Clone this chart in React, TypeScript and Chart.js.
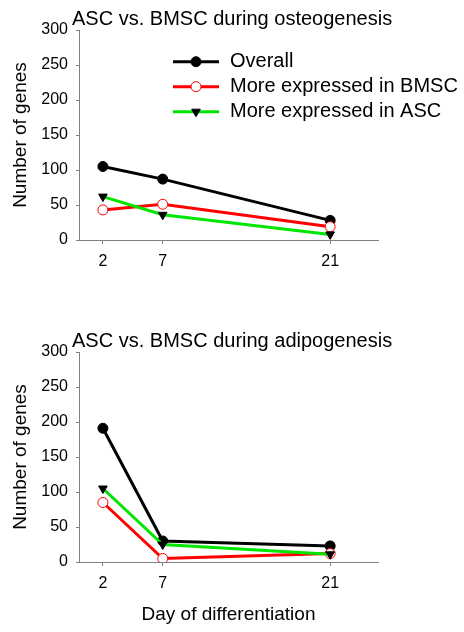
import React, { useEffect, useRef } from 'react';
import { Chart, registerables } from 'chart.js';

Chart.register(...registerables);

// ---- data ----
const days = [2, 7, 21];
const xTickValues = [2, 7, 21];
const xMin = 0;
const xMax = 25;
const yMin = 0;
const yMax = 300;
const yStep = 50;

const seriesLabels = ['Overall', 'More expressed in BMSC', 'More expressed in ASC'];

const osteoOverall = [105, 87, 28];
const osteoBMSC = [43, 51, 19];
const osteoASC = [62, 36, 8];

const adipoOverall = [191, 30, 23];
const adipoBMSC = [85, 5, 12];
const adipoASC = [105, 25, 11];

const osteoTitle = 'ASC vs. BMSC during osteogenesis';
const adipoTitle = 'ASC vs. BMSC during adipogenesis';
const yTitle = 'Number of genes';
const xTitle = 'Day of differentiation';

// ---- styles ----
const FONT = "'Liberation Sans', Arial, sans-serif";
const AXIS = '#808080';
const RED = '#ff0000';
const GREEN = '#00e600';

const seriesStyles = [
  { borderColor: '#000000', pointBackgroundColor: '#000000', pointBorderColor: '#000000', pointStyle: 'circle', pointRotation: 0, order: 3 },
  { borderColor: RED, pointBackgroundColor: '#ffffff', pointBorderColor: RED, pointStyle: 'circle', pointRotation: 0, order: 2 },
  { borderColor: GREEN, pointBackgroundColor: '#000000', pointBorderColor: '#000000', pointStyle: 'triangle', pointRotation: 180, order: 1 },
];

function makeTitlePlugin(text: string) {
  return {
    id: 'panelTitle',
    afterDraw(chart: any) {
      const ctx = chart.ctx;
      const a = chart.chartArea;
      ctx.save();
      ctx.font = `20px ${FONT}`;
      ctx.fillStyle = '#000';
      ctx.textAlign = 'left';
      ctx.textBaseline = 'alphabetic';
      ctx.fillText(text, a.left - 7, a.top - 5);
      ctx.restore();
    },
  };
}

const legendPlugin = {
  id: 'insideLegend',
  afterDraw(chart: any) {
    const ctx = chart.ctx;
    const a = chart.chartArea;
    chart.data.datasets.forEach((ds: any, i: number) => {
      const y = a.top + 31.7 + i * 25;
      const x0 = a.left + 94;
      const x1 = a.left + 140;
      const xm = (x0 + x1) / 2;
      ctx.save();
      ctx.strokeStyle = ds.borderColor;
      ctx.lineWidth = ds.borderWidth;
      ctx.beginPath();
      ctx.moveTo(x0, y);
      ctx.lineTo(x1, y);
      ctx.stroke();
      const r = ds.pointRadius;
      ctx.fillStyle = ds.pointBackgroundColor;
      ctx.strokeStyle = ds.pointBorderColor;
      ctx.lineWidth = ds.pointBorderWidth;
      ctx.beginPath();
      if (ds.pointStyle === 'triangle') {
        const s = r * Math.sin(Math.PI / 3);
        ctx.moveTo(xm, y + r);
        ctx.lineTo(xm - s, y - r / 2);
        ctx.lineTo(xm + s, y - r / 2);
        ctx.closePath();
      } else {
        ctx.arc(xm, y, r, 0, Math.PI * 2);
      }
      ctx.fill();
      ctx.stroke();
      ctx.font = `20px ${FONT}`;
      ctx.fillStyle = '#000';
      ctx.textAlign = 'left';
      ctx.textBaseline = 'middle';
      ctx.fillText(ds.label, a.left + 151, y);
      ctx.restore();
    });
  },
};

type PanelProps = {
  title: string;
  series: number[][];
  width: number;
  height: number;
  padTop: number;
  xHeight: number;
  showLegend: boolean;
  showXTitle: boolean;
};

function Panel(props: PanelProps) {
  const ref = useRef<HTMLCanvasElement | null>(null);
  useEffect(() => {
    if (!ref.current) return;
    const datasets = props.series.map((vals, i) => ({
      label: seriesLabels[i],
      data: days.map((d, j) => ({ x: d, y: vals[j] })),
      borderWidth: 3,
      pointRadius: 5,
      pointHoverRadius: 5,
      pointBorderWidth: 1,
      tension: 0,
      fill: false,
      ...seriesStyles[i],
    }));
    const plugins: any[] = [makeTitlePlugin(props.title)];
    if (props.showLegend) plugins.push(legendPlugin);
    const chart = new Chart(ref.current, {
      type: 'line',
      data: { datasets: datasets as any },
      options: {
        responsive: false,
        animation: false,
        devicePixelRatio: 1,
        layout: { padding: { top: props.padTop, left: 0, right: 86, bottom: 0 } },
        plugins: {
          legend: { display: false },
          title: { display: false },
          tooltip: { enabled: false },
        },
        scales: {
          x: {
            type: 'linear',
            min: xMin,
            max: xMax,
            afterBuildTicks: (scale: any) => {
              scale.ticks = xTickValues.map((v) => ({ value: v }));
            },
            afterFit: (scale: any) => {
              scale.height = props.xHeight;
            },
            grid: { display: true, drawOnChartArea: false, drawTicks: true, tickLength: 4, color: AXIS, lineWidth: 1 },
            border: { display: true, color: AXIS, width: 1 },
            ticks: { font: { family: FONT, size: 16 }, color: '#000', padding: 7.5, maxRotation: 0, autoSkip: false },
            title: {
              display: props.showXTitle,
              text: xTitle,
              font: { family: FONT, size: 19 },
              color: '#000',
              padding: { top: 0, bottom: 5.5 },
            },
          },
          y: {
            type: 'linear',
            min: yMin,
            max: yMax,
            afterFit: (scale: any) => {
              scale.width = 79;
            },
            grid: { display: true, drawOnChartArea: false, drawTicks: true, tickLength: 3, color: AXIS, lineWidth: 1 },
            border: { display: true, color: AXIS, width: 1 },
            ticks: { stepSize: yStep, font: { family: FONT, size: 16 }, color: '#000', padding: 8 },
            title: {
              display: true,
              text: yTitle,
              font: { family: FONT, size: 19 },
              color: '#000',
              padding: { top: 9, bottom: 0 },
            },
          },
        },
      } as any,
      plugins,
    });
    return () => chart.destroy();
  }, []);
  return (
    <canvas
      ref={ref}
      width={props.width}
      height={props.height}
      style={{ display: 'block', width: props.width, height: props.height }}
    />
  );
}

export default function App() {
  return (
    <div style={{ position: 'fixed', left: 0, top: 0, width: 464, height: 632, background: '#fff' }}>
      <Panel
        title={osteoTitle}
        series={[osteoOverall, osteoBMSC, osteoASC]}
        width={464}
        height={300}
        padTop={30}
        xHeight={60}
        showLegend={true}
        showXTitle={false}
      />
      <Panel
        title={adipoTitle}
        series={[adipoOverall, adipoBMSC, adipoASC]}
        width={464}
        height={332}
        padTop={52}
        xHeight={70}
        showLegend={false}
        showXTitle={true}
      />
    </div>
  );
}
